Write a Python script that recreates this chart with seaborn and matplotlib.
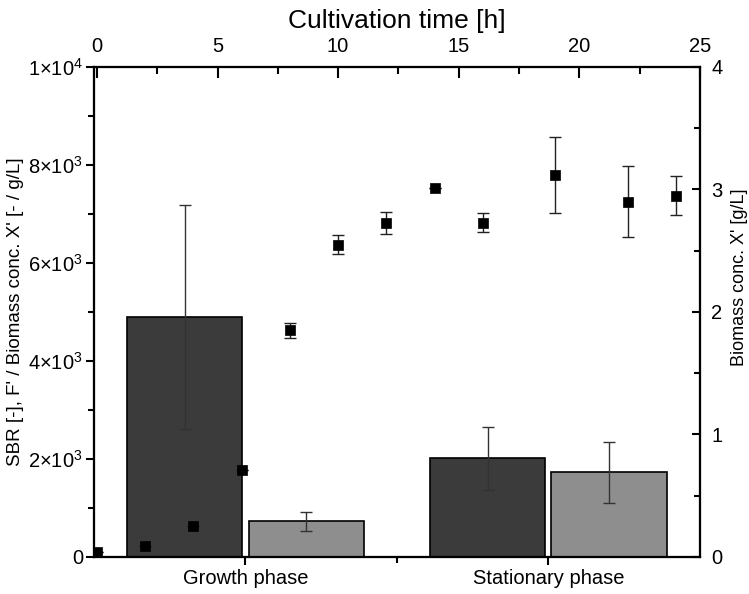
import numpy as np
import pandas as pd
import matplotlib
matplotlib.use("Agg")
import matplotlib.pyplot as plt
import seaborn as sns
from matplotlib.ticker import MultipleLocator, FixedLocator, FixedFormatter

# Phase bars (left axis)
phases = ["Growth phase", "Stationary phase"]
sbr_mean = [4900, 2010]
sbr_err = [2290, 640]
f_mean = [730, 1725]
f_err = [190, 620]

# Biomass over time (right / top axes)
time_h = [0, 2, 4, 6, 8, 10, 12, 14, 16, 19, 22, 24]
biomass = [0.04, 0.09, 0.25, 0.71, 1.85, 2.55, 2.73, 3.01, 2.73, 3.12, 2.90, 2.95]
biomass_err = [0.0, 0.0, 0.0, 0.0, 0.06, 0.08, 0.09, 0.0, 0.08, 0.31, 0.29, 0.16]

left_ticks = [0, 2000, 4000, 6000, 8000, 10000]
left_ticklabels = ["0", r"$\mathregular{2{\times}10^3}$", r"$\mathregular{4{\times}10^3}$",
                   r"$\mathregular{6{\times}10^3}$", r"$\mathregular{8{\times}10^3}$",
                   r"$\mathregular{1{\times}10^4}$"]

sns.set_style("ticks")
plt.rcParams["font.family"] = ["Liberation Sans", "DejaVu Sans"]
plt.rcParams["axes.linewidth"] = 1.5
plt.rcParams["text.color"] = "black"
plt.rcParams["axes.labelcolor"] = "black"
plt.rcParams["xtick.color"] = "black"
plt.rcParams["ytick.color"] = "black"
plt.rcParams["axes.edgecolor"] = "black"

df = pd.DataFrame({
    "phase": phases * 2,
    "series": ["SBR"] * 2 + ["F'"] * 2,
    "value": sbr_mean + f_mean,
})

fig = plt.figure(figsize=(7.49, 5.94), dpi=100)
ax = fig.add_axes([0.1255, 0.0623, 0.809, 0.825])

sns.barplot(data=df, x="phase", y="value", hue="series", order=phases,
            hue_order=["SBR", "F'"], palette=["#3b3b3b", "#8e8e8e"],
            width=0.8, gap=0.05, edgecolor="black", linewidth=1.2,
            errorbar=None, legend=False, ax=ax)

errs = sbr_err + f_err
for patch, err in zip(ax.patches, errs):
    cx = patch.get_x() + patch.get_width() / 2
    h = patch.get_height()
    ax.errorbar(cx, h, yerr=err, color="#333333", lw=1.0, capsize=4, capthick=1.0)

ax.set_xlim(-0.5, 1.5)
ax.set_ylim(0, 10000)
ax.yaxis.set_major_locator(FixedLocator(left_ticks))
ax.yaxis.set_major_formatter(FixedFormatter(left_ticklabels))
ax.yaxis.set_minor_locator(MultipleLocator(1000))
ax.xaxis.set_minor_locator(FixedLocator([0.5]))
ax.set_xlabel("")
ax.set_ylabel("SBR [-], F' / Biomass conc. X' [- / g/L]", fontsize=13.5, labelpad=3)
ax.tick_params(axis="both", which="major", labelsize=14.5, width=1.5, length=6)
ax.tick_params(axis="both", which="minor", width=1.5, length=4)
ax.tick_params(axis="y", which="both", direction="out", pad=2)
ax.tick_params(axis="x", which="both", direction="out", pad=3)

# Right axis: biomass, top axis: time
ax2 = ax.twinx()
ax2.set_ylim(0, 4)
ax2.yaxis.set_major_locator(MultipleLocator(1))
ax2.yaxis.set_minor_locator(MultipleLocator(0.5))
ax2.set_ylabel("Biomass conc. X' [g/L]", fontsize=13, labelpad=6)
ax2.yaxis.label.set_y(0.57)
ax2.tick_params(axis="y", which="major", labelsize=14.5, width=1.5, length=6, direction="in", pad=8)
ax2.tick_params(axis="y", which="minor", width=1.5, length=4, direction="in")

ax3 = ax2.twiny()
ax3.set_xlim(-0.12, 25)
ax3.xaxis.set_major_locator(MultipleLocator(5))
ax3.xaxis.set_minor_locator(MultipleLocator(2.5))
ax3.tick_params(axis="x", which="major", labelsize=14.5, width=1.5, length=8, direction="in", pad=8)
ax3.tick_params(axis="x", which="minor", width=1.5, length=5, direction="in")
ax3.set_xlabel("Cultivation time [h]", fontsize=19, labelpad=6)

ax3.errorbar(time_h, biomass, yerr=biomass_err, fmt="none", ecolor="#222222",
             elinewidth=1.0, capsize=4, capthick=1.0, zorder=2)
sns.scatterplot(x=time_h, y=biomass, marker="s", s=60, color="black",
                edgecolor="black", linewidth=0.5, ax=ax3, zorder=3)

for a in (ax, ax2, ax3):
    for sp in a.spines.values():
        sp.set_linewidth(1.5)
        sp.set_visible(True)

fig.savefig("out.png", dpi=100)
